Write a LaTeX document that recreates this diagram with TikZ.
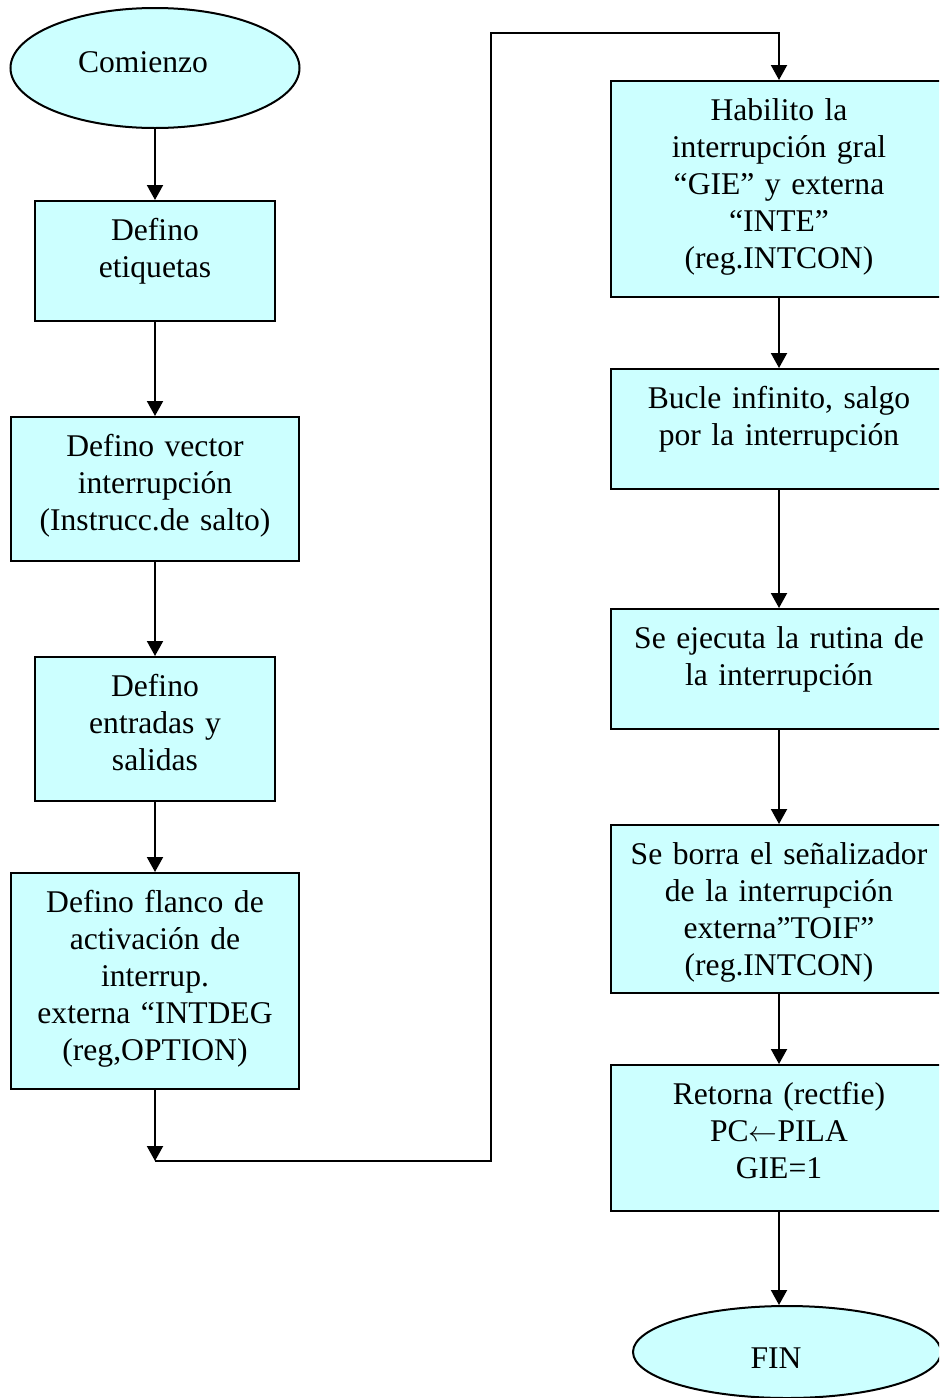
\documentclass[tikz,border=0pt]{standalone}
\usepackage{fontspec}
\setmainfont{Liberation Serif}
\usetikzlibrary{shapes.geometric,arrows.meta}
\definecolor{flowcyan}{HTML}{CCFFFF}
\tikzset{every picture/.append style={x=0.5pt,y=-0.5pt}}
\tikzset{stepbox/.style={draw, fill=flowcyan, line width=1pt, rectangle, inner sep=0pt}}
\tikzset{terminal/.style={draw, fill=flowcyan, line width=1pt, ellipse, inner sep=0pt}}
\tikzset{boxtext/.style={anchor=base, text width=170pt, align=center, inner sep=0pt}}
\tikzset{flow/.style={line width=1pt, -{Triangle[length=7.5pt,width=8pt]}}}
\tikzset{wire/.style={line width=1pt}}

\begin{document}
\begin{tikzpicture}[font=\fontsize{15.8}{18.5}\selectfont]
  \useasboundingbox (0,0) rectangle (939,1398);
  \clip (0,0) rectangle (939,1398);

  % columna izquierda
  \node (comienzo) at (155,68)[terminal, minimum width=144.5pt, minimum height=60pt]{};
  \node at (143,62){Comienzo};
  \node (etiq) at (155,261)[stepbox, minimum width=120pt, minimum height=60pt]{};
  \node at ([yshift=-20pt]etiq.north)[boxtext]{Defino\\etiquetas};
  \node (vector) at (155,489)[stepbox, minimum width=144pt, minimum height=72pt]{};
  \node at ([yshift=-20pt]vector.north)[boxtext]{Defino vector\\interrupción\\(Instrucc.de salto)};
  \node (entradas) at (155,729)[stepbox, minimum width=120pt, minimum height=72pt]{};
  \node at ([yshift=-20pt]entradas.north)[boxtext]{Defino\\entradas y\\salidas};
  \node (flanco) at (155,981)[stepbox, minimum width=144pt, minimum height=108pt]{};
  \node at ([yshift=-20pt]flanco.north)[boxtext]{Defino flanco de\\activación de\\interrup.\\externa “INTDEG\\(reg,OPTION)};

  % columna derecha
  \node (habilito) at (779,189)[stepbox, minimum width=168pt, minimum height=108pt]{};
  \node at ([yshift=-20pt]habilito.north)[boxtext]{Habilito la\\interrupción gral\\“GIE” y externa\\“INTE”\\(reg.INTCON)};
  \node (bucle) at (779,429)[stepbox, minimum width=168pt, minimum height=60pt]{};
  \node at ([yshift=-20pt]bucle.north)[boxtext]{Bucle infinito, salgo\\por la interrupción};
  \node (rutina) at (779,669)[stepbox, minimum width=168pt, minimum height=60pt]{};
  \node at ([yshift=-20pt]rutina.north)[boxtext]{Se ejecuta la rutina de\\la interrupción};
  \node (borra) at (779,909)[stepbox, minimum width=168pt, minimum height=84pt]{};
  \node at ([yshift=-20pt]borra.north)[boxtext]{Se borra el señalizador\\de la interrupción\\externa”TOIF”\\(reg.INTCON)};
  \node (retorna) at (779,1138)[stepbox, minimum width=168pt, minimum height=73pt]{};
  \node at ([yshift=-20pt]retorna.north)[boxtext]{Retorna (rectfie)\\PC$\leftarrow$PILA\\GIE=1};
  \node (fin) at (787,1352)[terminal, minimum width=154pt, minimum height=46pt]{};
  \node at (776,1358){FIN};

  % paso de una columna a la otra
  \coordinate (codo1) at (155,1161);
  \coordinate (codo2) at (491,1161);
  \coordinate (codo3) at (491,33);

  \draw[flow] (comienzo) -- (etiq);
  \draw[flow] (etiq) -- (vector);
  \draw[flow] (vector) -- (entradas);
  \draw[flow] (entradas) -- (flanco);
  \draw[flow] (flanco) -- (codo1);
  \draw[flow] (codo1) -- (codo2) -- (codo3) -| (habilito);
  \draw[flow] (habilito) -- (bucle);
  \draw[flow] (bucle) -- (rutina);
  \draw[flow] (rutina) -- (borra);
  \draw[flow] (borra) -- (retorna);
  \draw[flow] (retorna) -- (retorna |- fin.north);
\end{tikzpicture}
\end{document}
